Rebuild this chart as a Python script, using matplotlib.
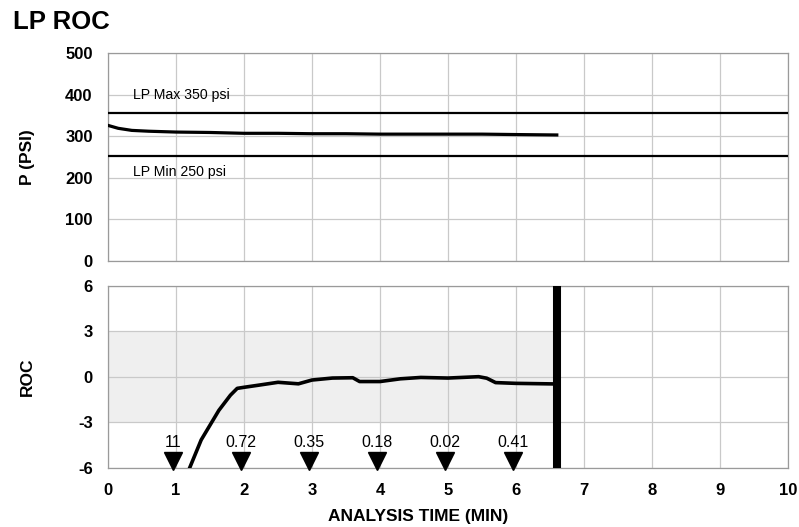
"""
LP ROC chart: pressure trace with limit lines on top, rate of change below.
"""
import matplotlib
matplotlib.use("Agg")
import matplotlib.pyplot as plt

plt.rcParams["font.family"] = ["Liberation Sans", "DejaVu Sans"]

GRID = "#c9c9c9"
SPINE = "#9a9a9a"
SHADE = "#efefef"

# pressure trace (psi) vs analysis time (min)
p_time = [0.0, 0.15, 0.35, 0.6, 1.0, 1.5, 2.0, 2.5, 3.0, 3.5, 4.0, 4.5, 5.0, 5.5, 6.0, 6.6]
p_psi = [326, 319, 314, 312, 310, 309, 307, 307, 306, 306, 305, 305, 305, 305, 304, 303]

lp_max = 357
lp_min = 253
lp_max_label = "LP Max 350 psi"
lp_min_label = "LP Min 250 psi"

# rate of change trace
roc_time = [1.2, 1.37, 1.63, 1.8, 1.9, 2.0, 2.2, 2.5, 2.8, 3.0, 3.3, 3.6, 3.7, 4.0,
            4.3, 4.6, 5.0, 5.45, 5.57, 5.7, 6.0, 6.6]
roc_val = [-6.0, -4.15, -2.2, -1.2, -0.75, -0.68, -0.55, -0.35, -0.45, -0.2, -0.07, -0.05,
           -0.3, -0.3, -0.12, -0.03, -0.07, 0.02, -0.08, -0.37, -0.42, -0.46]

roc_band = (-3, 3)
end_time = 6.6

marker_time = [1, 2, 3, 4, 5, 6]
marker_labels = ["11", "0.72", "0.35", "0.18", "0.02", "0.41"]

fig = plt.figure(figsize=(7.99, 5.27), dpi=100)
ax1 = fig.add_axes([0.1352, 0.5047, 0.851, 0.3947])
ax2 = fig.add_axes([0.1352, 0.112, 0.851, 0.3453])

for ax in (ax1, ax2):
    ax.set_xlim(0, 10)
    ax.set_xticks(range(0, 11))
    ax.set_axisbelow(True)
    ax.grid(True, color=GRID, linewidth=0.9)
    for sp in ax.spines.values():
        sp.set_color(SPINE)
        sp.set_linewidth(0.9)
    ax.tick_params(length=0, labelsize=12, pad=11)

# top: pressure
ax1.set_ylim(0, 500)
ax1.set_yticks(range(0, 501, 100))
ax1.set_yticklabels([str(v) for v in range(0, 501, 100)], fontweight="bold")
ax1.tick_params(labelbottom=False)
ax1.axhline(lp_max, color="black", linewidth=1.6, zorder=3)
ax1.axhline(lp_min, color="black", linewidth=1.6, zorder=3)
ax1.plot(p_time, p_psi, color="black", linewidth=2.3, zorder=4)
ax1.text(0.37, 398, lp_max_label, fontsize=10.2, va="center", ha="left")
ax1.text(0.37, 215, lp_min_label, fontsize=10.2, va="center", ha="left")
ax1.set_ylabel("P (PSI)", fontsize=12.5, fontweight="bold")

# bottom: ROC
ax2.set_ylim(-6, 6)
ax2.set_yticks([-6, -3, 0, 3, 6])
ax2.set_yticklabels(["-6", "-3", "0", "3", "6"], fontweight="bold")
ax2.set_xticklabels([str(v) for v in range(0, 11)], fontweight="bold")
ax2.fill_between([0, end_time], roc_band[0], roc_band[1], color=SHADE, linewidth=0, zorder=0.2)
ax2.plot(roc_time, roc_val, color="black", linewidth=2.6, zorder=4)
ax2.axvline(end_time, color="black", linewidth=5.8, zorder=5)
ax2.plot([t - 0.05 for t in marker_time], [-5.55] * len(marker_time), linestyle="none",
         marker="v", markersize=13, color="black", zorder=6, clip_on=False)
for t, lab in zip(marker_time, marker_labels):
    ax2.text(t - 0.05, -4.3, lab, fontsize=11.5, ha="center", va="center", zorder=6)
ax2.set_ylabel("ROC", fontsize=12.5, fontweight="bold")

# align y labels
ax1.yaxis.set_label_coords(-0.108, 0.5)
ax2.yaxis.set_label_coords(-0.108, 0.5)

fig.text(0.016, 0.958, "LP ROC", fontsize=18.5, fontweight="bold", va="center", ha="left")
fig.text(0.523, 0.019, "ANALYSIS TIME (MIN)", fontsize=12.5, fontweight="bold",
         ha="center", va="center")

fig.savefig("out.png", dpi=100, facecolor="white")
